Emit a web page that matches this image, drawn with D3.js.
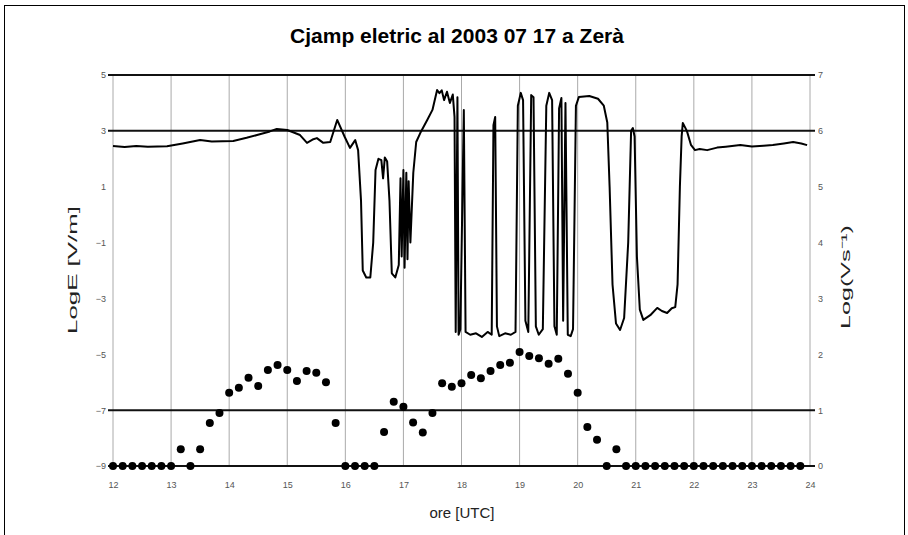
<!DOCTYPE html>
<html>
<head>
<meta charset="utf-8">
<script src="https://cdn.jsdelivr.net/npm/d3@7"></script>
<style>
  body { margin: 0; background: #fff; }
  text { font-family: "Liberation Sans", Arial, sans-serif; }
</style>
</head>
<body>
<div id="chart"></div>
<script>
// Hour ticks along the bottom
const hours = [12, 13, 14, 15, 16, 17, 18, 19, 20, 21, 22, 23, 24]
const leftTicks = [5, 3, 1, -1, -3, -5, -7, -9]
const rightTicks = [0, 1, 2, 3, 4, 5, 6, 7]
// black reference lines (left axis units)
const refLines = [5, 3, -7, -9]

// Log E curve: time in hours, value on left axis
const fieldHours = [
  12.00, 12.20, 12.40, 12.60, 12.93, 13.20, 13.50, 13.70, 14.07, 14.30, 14.48, 14.70, 14.82, 15.00,
  15.10, 15.22, 15.34, 15.45, 15.51, 15.62, 15.74, 15.86, 15.99, 16.08, 16.17, 16.22, 16.27, 16.30,
  16.36, 16.43, 16.48, 16.52, 16.57, 16.62, 16.65, 16.68, 16.72, 16.76, 16.80, 16.86, 16.92, 16.95,
  16.97, 17.00, 17.02, 17.05, 17.07, 17.09, 17.12, 17.17, 17.22, 17.29, 17.41, 17.50, 17.58, 17.62,
  17.66, 17.70, 17.75, 17.80, 17.85, 17.88, 17.90, 17.93, 17.95, 17.98, 18.04, 18.07, 18.15, 18.25,
  18.35, 18.45, 18.52, 18.55, 18.58, 18.61, 18.65, 18.75, 18.85, 18.93, 18.97, 19.02, 19.06, 19.10,
  19.15, 19.20, 19.24, 19.28, 19.33, 19.40, 19.46, 19.51, 19.56, 19.60, 19.64, 19.68, 19.72, 19.75,
  19.79, 19.83, 19.88, 19.92, 19.97, 20.02, 20.20, 20.35, 20.45, 20.51, 20.55, 20.60, 20.66, 20.73,
  20.80, 20.87, 20.92, 20.95, 20.98, 21.02, 21.07, 21.13, 21.25, 21.37, 21.45, 21.54, 21.62, 21.68,
  21.72, 21.76, 21.79, 21.81, 21.88, 21.95, 22.02, 22.10, 22.23, 22.40, 22.55, 22.80, 23.00, 23.20,
  23.36, 23.55, 23.71, 23.85, 23.95
]
const fieldValues = [
  2.46, 2.42, 2.46, 2.43, 2.45, 2.55, 2.67, 2.62, 2.64, 2.75, 2.85, 2.98, 3.07, 3.03,
  2.95, 2.85, 2.57, 2.70, 2.74, 2.57, 2.60, 3.39, 2.78, 2.39, 2.67, 2.31, 0.50, -2.00,
  -2.25, -2.25, -1.00, 1.60, 2.00, 1.95, 1.30, 2.05, 1.90, 0.50, -2.10, -2.25, -1.80, 1.30,
  -1.50, 1.60, -1.90, 1.50, -1.60, 1.20, -1.00, 1.50, 2.60, 2.92, 3.39, 3.75, 4.46, 4.35,
  4.45, 4.10, 4.40, 4.00, 4.30, 3.50, -4.20, 4.20, -4.30, -4.10, 3.75, -4.20, -4.30, -4.25,
  -4.38, -4.20, -4.30, 3.20, 3.50, -4.00, -4.35, -4.25, -4.30, -4.20, 3.90, 4.36, 4.10, -3.80,
  -4.20, 4.28, 4.20, -4.00, -4.30, -4.10, 3.90, 4.36, 4.10, -4.00, -4.30, 3.80, 4.18, -3.80,
  4.00, -4.30, -4.35, -4.10, 3.90, 4.21, 4.25, 4.15, 3.90, 3.30, 1.00, -2.50, -3.90, -4.13,
  -3.70, -1.00, 3.00, 3.10, 2.80, -1.50, -3.40, -3.77, -3.60, -3.34, -3.45, -3.52, -3.35, -3.31,
  -2.50, 1.00, 2.80, 3.28, 3.00, 2.50, 2.31, 2.35, 2.31, 2.40, 2.43, 2.49, 2.44, 2.47,
  2.49, 2.55, 2.60, 2.55, 2.49
]

// dots every 10 minutes from 12:00 to 23:50, right axis
const dotStartHour = 12
const dotStepMinutes = 10
const dotValues = [
  0, 0, 0, 0, 0, 0, 0, 0.30, 0, 0.30, 0.77, 0.95,
  1.31, 1.40, 1.58, 1.43, 1.72, 1.81, 1.72, 1.52, 1.70, 1.67, 1.50, 0.77,
  0, 0, 0, 0, 0.61, 1.15, 1.06, 0.78, 0.60, 0.95, 1.48, 1.42,
  1.48, 1.63, 1.57, 1.70, 1.81, 1.85, 2.04, 1.97, 1.93, 1.83, 1.92, 1.65,
  1.31, 0.70, 0.47, 0, 0.30, 0, 0, 0, 0, 0, 0, 0,
  0, 0, 0, 0, 0, 0, 0, 0, 0, 0, 0, 0
]

const width = 908
const height = 535
const plot = {left: 113, right: 810, top: 75, bottom: 466}

const svg = d3.select('#chart')
  .append('svg')
  .attr('width', width)
  .attr('height', height)

// outer frame
svg.append('rect')
  .attr('x', 4.5)
  .attr('y', 5.5)
  .attr('width', 900)
  .attr('height', 545)
  .attr('fill', 'none')
  .attr('stroke', '#000')
  .attr('stroke-width', 1)

svg.append('text')
  .attr('x', 457)
  .attr('y', 43)
  .attr('text-anchor', 'middle')
  .style('font-size', '21px')
  .style('font-weight', 'bold')
  .text('Cjamp eletric al 2003 07 17 a Zerà')

const x = d3.scaleLinear().domain([12, 24]).range([plot.left, plot.right])
const yLeft = d3.scaleLinear().domain([-9, 5]).range([plot.bottom, plot.top])
const yRight = d3.scaleLinear().domain([0, 7]).range([plot.bottom, plot.top])

// vertical grid lines
svg.append('g')
  .selectAll('line')
  .data(hours)
  .enter()
  .append('line')
  .attr('x1', d => x(d))
  .attr('x2', d => x(d))
  .attr('y1', plot.top)
  .attr('y2', plot.bottom)
  .attr('stroke', '#aaa')
  .attr('stroke-width', 1)

// horizontal reference lines
svg.append('g')
  .selectAll('line')
  .data(refLines)
  .enter()
  .append('line')
  .attr('x1', plot.left - 5)
  .attr('x2', plot.right + 5)
  .attr('y1', d => yLeft(d))
  .attr('y2', d => yLeft(d))
  .attr('stroke', '#111')
  .attr('stroke-width', 2)

// axes (labels only, the lines are drawn above)
const leftAxis = svg.append('g')
  .attr('transform', 'translate(' + plot.left + ',0)')
  .call(d3.axisLeft(yLeft).tickValues(leftTicks).tickSize(0).tickPadding(7).tickFormat(d3.format('d')))
const rightAxis = svg.append('g')
  .attr('transform', 'translate(' + plot.right + ',0)')
  .call(d3.axisRight(yRight).tickValues(rightTicks).tickSize(0).tickPadding(8).tickFormat(d3.format('d')))
const bottomAxis = svg.append('g')
  .attr('transform', 'translate(0,' + plot.bottom + ')')
  .call(d3.axisBottom(x).tickValues(hours).tickSize(0).tickPadding(16))

;[leftAxis, rightAxis, bottomAxis].forEach(a => {
  a.select('.domain').remove()
  a.selectAll('text')
    .style('font-size', '9px')
    .style('font-family', '"Liberation Sans", Arial, sans-serif')
    .attr('fill', '#555')
})

// field curve
const line = d3.line()
  .x(d => x(d[0]))
  .y(d => yLeft(d[1]))
svg.append('path')
  .datum(fieldHours.map((h, i) => [h, fieldValues[i]]))
  .attr('d', line)
  .attr('fill', 'none')
  .attr('stroke', '#000')
  .attr('stroke-width', 2)
  .attr('stroke-linejoin', 'round')

// dots
svg.append('g')
  .selectAll('circle')
  .data(dotValues)
  .enter()
  .append('circle')
  .attr('cx', (d, i) => x(dotStartHour + i * dotStepMinutes / 60))
  .attr('cy', d => yRight(d))
  .attr('r', 4)
  .attr('fill', '#000')

// axis titles
svg.append('text')
  .attr('transform', 'translate(77,270) rotate(-90)')
  .attr('text-anchor', 'middle')
  .attr('textLength', 128)
  .attr('lengthAdjust', 'spacingAndGlyphs')
  .style('font-size', '13px')
  .attr('fill', '#222')
  .text('LogE [V/m]')

svg.append('text')
  .attr('transform', 'translate(850,277) rotate(-90)')
  .attr('text-anchor', 'middle')
  .attr('textLength', 104)
  .attr('lengthAdjust', 'spacingAndGlyphs')
  .style('font-size', '13px')
  .attr('fill', '#222')
  .text('Log(Vs⁻¹)')

svg.append('text')
  .attr('x', 462)
  .attr('y', 518)
  .attr('text-anchor', 'middle')
  .style('font-size', '15px')
  .attr('fill', '#222')
  .text('ore [UTC]')
</script>
</body>
</html>
